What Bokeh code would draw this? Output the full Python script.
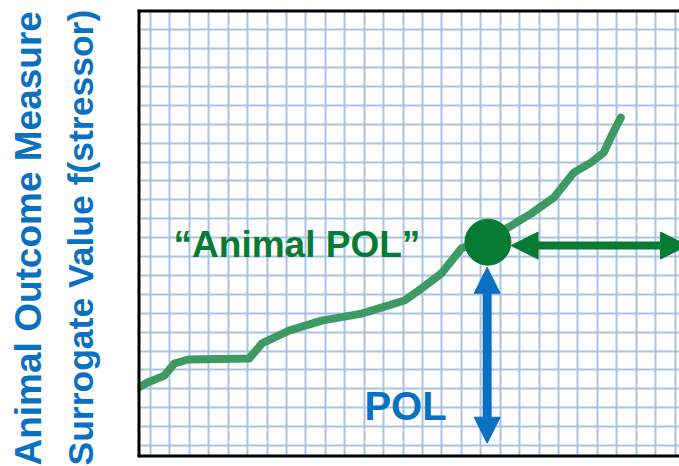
from bokeh.plotting import figure
from bokeh.models import (Title, Span, Arrow, NormalHead, Grid, FixedTicker,
                          Label, ColumnDataSource, Range1d)
from bokeh.embed import file_html
from bokeh.resources import INLINE

# ---- data (grid units) ----
curve_x = [-1.08, -0.15, 0.72, 1.23, 1.95, 5.08, 5.74, 7.13, 8.82, 10.87, 13.08,
           13.95, 14.97, 16.00, 17.38, 18.41, 19.59, 20.77, 21.79, 22.67, 23.33,
           23.79, 24.21]
curve_y = [2.80, 3.33, 3.70, 4.34, 4.55, 4.60, 5.40, 6.08, 6.61, 6.98, 7.67,
           8.31, 9.10, 10.42, 11.00, 11.53, 12.27, 13.12, 14.44, 14.97, 15.50,
           16.51, 17.35]
pol_point_x = [17.37]
pol_point_y = [10.76]
pol_arrow_x = 17.33
pol_arrow_y = [0.12, 9.43]
animal_arrow_y = 10.58
animal_arrow_x = [18.56, 27.64]
grid_x_ticks = list(range(0, 28))
grid_y_ticks = list(range(0, 23))
y_title_lines = ["Surrogate Value f(stressor)", "Animal Outcome Measure"]
label_animal = "\u201cAnimal POL\u201d"
label_pol = "POL"

GREEN = "#3c9a62"
DARK_GREEN = "#077a34"
BLUE = "#0a70c2"
FONT = "Liberation Sans"

p = figure(width=679, height=466, output_backend="svg", toolbar_location=None,
           x_range=Range1d(-0.667, 27.23), y_range=Range1d(-0.635, 23.07),
           x_axis_location=None, y_axis_location=None,
           min_border_left=135, min_border_right=0, min_border_top=9,
           min_border_bottom=9)
p.outline_line_color = None
p.background_fill_color = "white"
p.border_fill_color = "white"
p.center = [c for c in p.center if not isinstance(c, Grid)]

gx = Grid(dimension=0, ticker=FixedTicker(ticks=grid_x_ticks),
          grid_line_color="#a7c2e4", grid_line_width=2)
gy = Grid(dimension=1, ticker=FixedTicker(ticks=grid_y_ticks),
          grid_line_color="#a7c2e4", grid_line_width=2)
p.add_layout(gx)
p.add_layout(gy)

# frame lines (left, top, bottom)
p.add_layout(Span(location=p.x_range.start, dimension="height",
                  line_color="black", line_width=6))
p.add_layout(Span(location=p.y_range.start, dimension="width",
                  line_color="black", line_width=6))
p.add_layout(Span(location=p.y_range.end, dimension="width",
                  line_color="black", line_width=6))

src = ColumnDataSource(dict(x=curve_x, y=curve_y))
p.line("x", "y", source=src, line_color=GREEN, line_width=8,
       line_join="round", line_cap="round")

p.add_layout(Arrow(start=NormalHead(size=26, fill_color=BLUE, line_color=BLUE),
                   end=NormalHead(size=26, fill_color=BLUE, line_color=BLUE),
                   x_start=pol_arrow_x, y_start=pol_arrow_y[0],
                   x_end=pol_arrow_x, y_end=pol_arrow_y[1],
                   line_color=BLUE, line_width=9))
p.add_layout(Arrow(start=NormalHead(size=27, fill_color=DARK_GREEN, line_color=DARK_GREEN),
                   end=NormalHead(size=27, fill_color=DARK_GREEN, line_color=DARK_GREEN),
                   x_start=animal_arrow_x[0], y_start=animal_arrow_y,
                   x_end=animal_arrow_x[1], y_end=animal_arrow_y,
                   line_color=DARK_GREEN, line_width=8))

p.scatter(pol_point_x, pol_point_y, size=46, fill_color=DARK_GREEN,
          line_color=DARK_GREEN)

p.add_layout(Label(x=7.54, y=10.66, text=label_animal, text_font=FONT,
                   text_font_style="bold", text_font_size="37px",
                   text_color=DARK_GREEN, text_align="center",
                   text_baseline="alphabetic"))
p.add_layout(Label(x=13.13, y=2.09, text=label_pol, text_font=FONT,
                   text_font_style="bold", text_font_size="40px",
                   text_color=BLUE, text_align="center",
                   text_baseline="alphabetic"))

# spacer between frame and the two title lines
p.add_layout(Title(text=" ", text_font_size="2px", standoff=28), "left")
for t, fs in zip(y_title_lines, ["35.5px", "37px"]):
    p.add_layout(Title(text=t, align="left", offset=-8, text_font=FONT,
                       text_font_style="bold", text_font_size=fs,
                       text_color=BLUE, standoff=10), "left")

open("out.html", "w").write(file_html(p, INLINE))
